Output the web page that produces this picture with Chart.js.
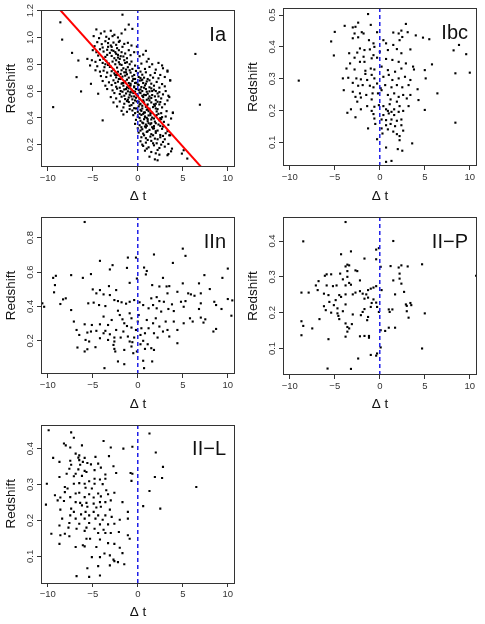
<!DOCTYPE html>
<html>
<head>
<meta charset="utf-8">
<script src="https://cdn.jsdelivr.net/npm/chart.js@4.4.1/dist/chart.umd.min.js"></script>
<style>
  body { margin: 0; background: #fff; }
  .panel { position: absolute; }
</style>
</head>
<body>
<canvas class="panel" id="cIa"  width="242" height="208" style="left:0;top:0"></canvas>
<canvas class="panel" id="cIbc" width="243" height="208" style="left:242px;top:0"></canvas>
<canvas class="panel" id="cIIn" width="242" height="208" style="left:0;top:208px"></canvas>
<canvas class="panel" id="cIIP" width="243" height="208" style="left:242px;top:208px"></canvas>
<canvas class="panel" id="cIIL" width="242" height="208" style="left:0;top:416px"></canvas>
<script>
// ---- data: [delta t, redshift] ----
const xTicks = [-10, -5, 0, 5, 10];

const iaPoints = [
  [-8.6,1.113],[-8.4,0.984],[-9.4,0.48],[-7.3,0.885],[-6.6,0.828],[-6.8,0.704],[-6.3,0.597],[-5.6,0.84],
  [-5.3,0.791],[-5.2,0.654],[-4.4,0.58],[-3.9,0.381],[-1.7,1.17],[-1.0,1.096],[-1.4,1.059],[-0.6,1.064],
  [6.4,0.877],[6.9,0.498],[5.1,0.158],[5.5,0.096],[4.9,0.133],[3.3,0.121],[3.8,0.17],[3.5,0.27],
  [3.9,0.436],[3.5,0.555],[3.6,0.679],[2.7,0.791],[3.3,0.753],[2.2,0.083],[0.6,0.872],[-0.1,0.932],[0.0,0.89],
  [-4.6,1.06],[-4.1,1.03],[-3.7,1.045],[-3.0,1.05],[-2.6,1.02],[-4.9,1.01],[-4.3,0.995],[-3.5,1.005],
  [-3.2,0.99],[-2.8,1.01],[-2.2,1.0],[-1.8,1.03],[-2.0,0.975],
  [-4.5,0.965],[-4.0,0.95],[-3.6,0.972],[-3.3,0.958],[-3.0,0.94],[-2.7,0.962],[-2.4,0.945],[-2.1,0.967],
  [-1.5,0.952],[-1.1,0.96],[-4.8,0.935],[-3.9,0.925],[-2.9,0.93],[-2.3,0.92],[-1.7,0.93],[-0.7,0.94],
  [-5.0,0.905],[-4.6,0.89],[-4.2,0.912],[-3.8,0.895],[-3.4,0.908],[-3.1,0.885],[-2.7,0.9],[-2.4,0.878],
  [-2.1,0.905],[-1.8,0.89],[-1.4,0.88],[-1.0,0.905],[-0.4,0.89],[0.9,0.9],[-4.4,0.865],[-3.6,0.855],
  [-2.9,0.862],[-2.2,0.85],[-1.6,0.858],[-1.2,0.845],[-0.8,0.868],[0.2,0.86],[1.2,0.84],
  [-5.1,0.83],[-4.7,0.818],[-4.2,0.832],[-3.9,0.81],[-3.5,0.825],[-3.2,0.805],[-2.8,0.82],[-2.5,0.8],
  [-2.1,0.815],[-1.8,0.795],[-1.4,0.81],[-0.9,0.8],[-0.3,0.79],[0.4,0.805],[1.0,0.82],[1.6,0.8],[2.3,0.81],
  [-4.5,0.785],[-3.7,0.778],[-3.0,0.782],[-2.3,0.775],[-1.6,0.77],[-1.1,0.778],[-0.6,0.765],[0.1,0.772],
  [0.8,0.765],[1.3,0.78],[2.0,0.76],[2.8,0.77],
  [-4.7,0.755],[-4.2,0.745],[-3.8,0.752],[-3.4,0.738],[-2.9,0.748],[-2.6,0.732],[-2.2,0.744],[-1.9,0.728],
  [-1.5,0.74],[-1.2,0.725],[-0.8,0.738],[-0.4,0.72],[0.0,0.735],[0.5,0.722],[0.9,0.74],[1.4,0.718],
  [1.9,0.735],[2.5,0.72],[3.3,0.745],[-4.1,0.712],[-3.5,0.705],[-3.0,0.715],[-2.4,0.702],[-1.7,0.708],
  [-1.0,0.7],[-0.5,0.69],[0.3,0.698],[1.1,0.69],[1.7,0.7],[2.3,0.695],[3.0,0.705],[3.6,0.68],
  [-3.9,0.675],[-3.2,0.665],[-2.7,0.68],[-2.2,0.67],[-1.8,0.655],[-1.4,0.672],[-1.0,0.66],[-0.6,0.675],
  [-0.2,0.662],[0.2,0.678],[0.6,0.66],[1.0,0.672],[1.5,0.655],[2.1,0.668],[2.7,0.652],[-3.6,0.64],
  [-2.9,0.645],[-2.4,0.632],[-1.6,0.64],[-1.2,0.628],[-0.8,0.642],[-0.4,0.635],[0.1,0.645],[0.4,0.63],
  [0.8,0.642],[1.3,0.628],[1.8,0.64],[2.4,0.625],[3.0,0.635],
  [-3.4,0.615],[-2.8,0.605],[-2.3,0.618],[-1.9,0.6],[-1.5,0.612],[-1.1,0.598],[-0.7,0.61],[-0.3,0.595],
  [0.1,0.608],[0.5,0.6],[0.9,0.615],[1.3,0.598],[1.8,0.61],[2.4,0.592],[3.1,0.6],[-2.6,0.585],
  [-2.0,0.578],[-1.3,0.582],[-0.9,0.572],[-0.5,0.585],[-0.1,0.575],[0.3,0.585],[0.7,0.572],[1.1,0.58],
  [1.6,0.57],[2.2,0.582],[2.8,0.575],[3.4,0.565],
  [-3.0,0.555],[-2.4,0.545],[-1.8,0.558],[-1.4,0.54],[-1.0,0.552],[-0.6,0.538],[-0.2,0.55],[0.2,0.54],
  [0.6,0.555],[1.0,0.535],[1.5,0.548],[2.0,0.532],[2.6,0.545],[3.3,0.53],[-2.7,0.515],[-2.0,0.522],
  [-1.5,0.505],[-1.0,0.518],[-0.5,0.51],[-0.1,0.522],[0.3,0.505],[0.7,0.515],[1.1,0.5],[1.5,0.515],
  [2.0,0.505],[2.5,0.518],[3.0,0.502],
  [-2.3,0.485],[-1.6,0.478],[-0.9,0.49],[-0.4,0.472],[0.1,0.485],[0.5,0.47],[0.9,0.482],[1.3,0.468],
  [1.7,0.48],[2.2,0.465],[2.7,0.478],[-1.8,0.452],[-1.2,0.445],[-0.6,0.455],[0.0,0.445],[0.4,0.452],
  [0.8,0.44],[1.2,0.45],[1.6,0.438],[2.1,0.448],[2.6,0.435],[3.2,0.45],[3.9,0.44],
  [-1.6,0.425],[-0.5,0.42],[0.0,0.408],[0.4,0.422],[0.8,0.405],[1.2,0.418],[1.6,0.402],[2.0,0.415],
  [2.5,0.398],[3.1,0.41],[3.7,0.395],[-0.2,0.385],[0.3,0.378],[0.7,0.39],[1.1,0.375],[1.5,0.388],
  [1.9,0.372],[2.4,0.382],[2.9,0.37],
  [-0.3,0.355],[0.2,0.345],[0.6,0.36],[1.0,0.34],[1.4,0.352],[1.8,0.338],[2.3,0.35],[2.8,0.335],
  [3.4,0.348],[0.0,0.322],[0.5,0.315],[0.9,0.328],[1.3,0.31],[1.8,0.322],[2.2,0.305],[2.7,0.318],[3.3,0.3],
  [0.1,0.29],[0.6,0.282],[1.0,0.295],[1.5,0.278],[2.0,0.288],[2.5,0.272],[3.1,0.285],[3.6,0.27],
  [0.4,0.255],[0.9,0.248],[1.4,0.26],[1.9,0.245],[2.5,0.255],[3.0,0.24],
  [0.3,0.225],[0.9,0.215],[1.5,0.228],[2.1,0.21],[2.8,0.22],[3.4,0.205],[0.6,0.19],[1.2,0.18],
  [1.8,0.195],[2.4,0.175],[3.0,0.185],[0.8,0.155],[1.5,0.145],[2.2,0.16],[3.7,0.15],
  [1.3,0.11],[2.4,0.125],[1.9,0.09],[3.4,0.13],
  [-1.3,0.615],[-0.8,0.592],[-0.4,0.628],[0.0,0.565],[0.3,0.612],[0.6,0.53],[0.9,0.57],[1.2,0.545],
  [1.6,0.6],[-1.1,0.535],[-0.7,0.56],[-0.2,0.47],[0.2,0.43],[0.5,0.49],[0.8,0.41],[1.0,0.46],
  [1.4,0.42],[1.8,0.5],[-0.9,0.64],[-0.3,0.66],[0.4,0.68],[0.7,0.44],[1.1,0.39],[1.5,0.36],
  [0.1,0.52],[-0.5,0.6],[2.1,0.42],[2.4,0.5],[1.9,0.56],[-1.7,0.66],[-2.1,0.69],[-2.5,0.72],
  [-3.1,0.78],[-3.6,0.8],[-2.0,0.84],[-1.3,0.74],[0.9,0.35],[1.7,0.32],[2.6,0.39],[0.4,0.33],
  [-3.3,0.93],[-2.9,0.905],[-2.5,0.89],[-2.2,0.87],[-1.9,0.86],[-2.6,0.845],[-3.4,0.87],[-3.8,0.84],
  [-2.4,0.83],[-1.5,0.83],[-1.2,0.815],[-0.7,0.82],[-2.0,0.8],[-3.3,0.795],[-2.7,0.76],[-1.8,0.755],
  [-1.3,0.76],[-0.9,0.755],[-0.2,0.75],[0.3,0.745],[-2.3,0.72],[-1.4,0.715],[-0.6,0.71],[0.1,0.705],
  [0.7,0.7],[-1.9,0.69],[-1.2,0.685],[-0.3,0.69],[0.5,0.685],[1.3,0.68],[-2.5,0.66],[-1.6,0.66],
  [-0.8,0.655],[0.0,0.65],[0.9,0.655],[-2.0,0.625],[-1.0,0.62],[-0.2,0.615],[0.7,0.625],[1.5,0.62],
  [-1.7,0.595],[-0.8,0.59],[0.2,0.59],[1.0,0.595],[2.0,0.6],[-1.5,0.565],[-0.4,0.56],[0.5,0.565],
  [1.3,0.56],[2.3,0.56],[-1.2,0.525],[-0.3,0.53],[0.6,0.525],[1.3,0.53],[2.2,0.52],[-0.7,0.495],
  [0.2,0.5],[1.0,0.49],[1.9,0.49],[-0.9,0.465],[0.3,0.46],[1.1,0.465],[2.0,0.47],[-0.3,0.435],
  [0.6,0.43],[1.4,0.435],[2.3,0.43],[0.2,0.4],[1.0,0.4],[1.8,0.395],[2.7,0.405],[0.5,0.365],
  [1.2,0.36],[2.0,0.36],[0.8,0.335],[1.6,0.33],[2.5,0.34],[0.3,0.305],[1.1,0.3],[2.0,0.3],
  [0.7,0.27],[1.7,0.27],[2.8,0.265],[1.1,0.235],[2.2,0.24],[0.5,0.2],[1.7,0.21],[2.6,0.2],
  [1.0,0.17],[2.0,0.135]
];
// fitted trend drawn in red on the Ia panel
const iaFitIntercept = 0.56;
const iaFitSlope = -0.0748;

const ibcPoints = [
  [-1.3,0.503],[2.9,0.472],[-3.9,0.466],[-2.7,0.463],[-1.0,0.469],[-2.4,0.476],[-3.0,0.461],[-5.0,0.447],
  [-5.4,0.417],[-2.8,0.442],[-2.0,0.446],[-1.8,0.442],[-2.4,0.43],[-3.0,0.427],[-0.3,0.446],[1.5,0.445],
  [2.1,0.442],[2.4,0.451],[3.1,0.446],[4.0,0.436],[4.8,0.429],[5.5,0.424],[2.5,0.431],[0.4,0.421],
  [2.2,0.421],[-1.2,0.421],[-0.7,0.411],[0.7,0.411],[1.5,0.406],[8.8,0.406],[8.2,0.389],[9.6,0.377],
  [-5.1,0.373],[-3.4,0.38],[-2.5,0.382],[-2.2,0.395],[-1.7,0.39],[-1.1,0.392],[-0.6,0.4],[0.0,0.385],
  [0.9,0.39],[1.9,0.393],[3.4,0.392],[2.4,0.38],[-0.7,0.374],[-1.8,0.369],[-2.8,0.366],[-2.2,0.353],
  [-1.7,0.353],[-0.9,0.364],[-0.3,0.366],[0.7,0.362],[1.4,0.359],[2.1,0.353],[2.9,0.348],[3.7,0.338],
  [3.8,0.329],[5.8,0.345],[-3.3,0.348],[-3.7,0.332],[-2.8,0.329],[-1.6,0.325],[-1.0,0.332],[-0.6,0.329],
  [0.2,0.338],[0.9,0.327],[1.7,0.322],[2.4,0.332],[5.0,0.327],[8.4,0.317],[10.0,0.319],[-4.1,0.301],
  [-3.5,0.303],[-2.6,0.301],[-2.1,0.298],[-1.6,0.315],[-1.4,0.296],[-0.9,0.312],[-0.6,0.301],[0.4,0.306],
  [1.0,0.312],[1.4,0.296],[2.1,0.301],[2.8,0.306],[3.4,0.296],[5.1,0.301],[-9.0,0.294],[-3.0,0.287],
  [-2.4,0.278],[-1.9,0.28],[-1.1,0.278],[-0.7,0.273],[-0.3,0.285],[0.1,0.27],[0.6,0.28],[1.3,0.273],
  [1.9,0.28],[2.5,0.273],[3.2,0.28],[4.2,0.267],[-4.0,0.264],[-3.0,0.259],[-2.2,0.254],[-1.5,0.249],
  [-0.8,0.254],[-0.2,0.254],[0.2,0.264],[0.9,0.249],[1.6,0.254],[2.1,0.243],[2.6,0.249],[3.4,0.249],
  [6.4,0.254],[-2.7,0.243],[-2.1,0.241],[-0.9,0.235],[1.2,0.235],[3.0,0.238],[4.3,0.233],[-2.5,0.228],
  [-1.4,0.214],[-0.6,0.212],[-0.1,0.217],[0.4,0.214],[1.1,0.22],[1.9,0.228],[2.2,0.214],[3.2,0.214],
  [-3.2,0.204],[-2.1,0.204],[-0.9,0.199],[0.7,0.204],[0.9,0.199],[1.3,0.196],[1.6,0.204],[2.1,0.196],
  [2.6,0.199],[5.0,0.202],[-3.6,0.193],[-0.7,0.189],[0.4,0.186],[1.0,0.191],[1.6,0.186],[-2.7,0.179],
  [-0.6,0.175],[0.2,0.172],[0.7,0.17],[1.3,0.172],[1.9,0.168],[2.4,0.172],[8.4,0.162],[-0.5,0.158],
  [0.7,0.154],[1.2,0.158],[1.7,0.151],[2.4,0.154],[-1.3,0.144],[0.2,0.144],[0.9,0.141],[1.5,0.134],
  [2.6,0.137],[0.3,0.128],[1.9,0.126],[2.2,0.12],[3.6,0.097],[2.2,0.107],[0.7,0.084],[2.0,0.079],
  [2.5,0.074],[1.3,0.042],[0.7,0.039],[-0.3,0.11]
];

const iinPoints = [
  [-5.9,0.891],[5.0,0.736],[5.3,0.694],[1.8,0.702],[-1.1,0.684],[-0.2,0.684],[-4.2,0.665],[3.9,0.653],
  [-2.8,0.64],[-1.2,0.624],[-3.1,0.615],[0.7,0.626],[10.0,0.62],[-9.4,0.566],[-9.1,0.578],[-7.4,0.582],
  [-6.1,0.566],[-5.2,0.588],[0.9,0.586],[2.8,0.566],[1.0,0.606],[7.4,0.582],[9.4,0.566],[5.0,0.534],
  [6.8,0.534],[-0.1,0.562],[-0.9,0.537],[-9.2,0.524],[-3.2,0.518],[1.6,0.524],[2.4,0.516],[3.2,0.516],
  [3.5,0.518],[5.6,0.476],[5.9,0.47],[6.3,0.462],[7.0,0.476],[8.0,0.501],[-5.0,0.499],[-4.2,0.495],
  [-2.4,0.495],[-4.6,0.476],[-3.8,0.47],[-3.1,0.466],[-9.3,0.482],[-8.0,0.447],[-8.3,0.441],[-8.6,0.414],
  [3.3,0.476],[4.4,0.485],[1.5,0.447],[2.1,0.454],[2.4,0.431],[2.9,0.427],[3.8,0.412],[4.8,0.427],
  [5.1,0.398],[5.3,0.431],[7.0,0.418],[8.5,0.427],[8.7,0.408],[9.3,0.385],[10.0,0.443],[10.5,0.435],
  [10.4,0.346],[-10.6,0.418],[-10.4,0.398],[-5.5,0.418],[-4.9,0.422],[-4.3,0.408],[-3.6,0.402],[-2.6,0.437],
  [-2.2,0.431],[-1.8,0.424],[-1.3,0.416],[-0.9,0.427],[-0.4,0.437],[0.2,0.424],[0.6,0.408],[1.2,0.389],
  [1.7,0.408],[2.1,0.389],[2.6,0.37],[3.4,0.385],[4.0,0.373],[5.8,0.331],[6.8,0.385],[7.5,0.325],
  [7.0,0.335],[7.3,0.306],[8.4,0.254],[8.7,0.269],[-7.4,0.379],[-7.1,0.312],[-6.5,0.234],[-6.7,0.161],
  [-5.9,0.138],[-5.6,0.151],[-5.9,0.296],[-5.1,0.292],[-5.6,0.248],[-5.2,0.254],[-4.6,0.258],[-4.7,0.163],
  [-4.2,0.296],[-3.8,0.341],[-3.6,0.258],[-3.3,0.292],[-2.9,0.321],[-3.1,0.238],[-2.6,0.219],[-2.6,0.196],
  [-2.7,0.176],[-2.6,0.153],[-2.2,0.08],[-1.5,0.064],[-3.7,0.041],[-2.2,0.375],[-2.0,0.35],[-1.7,0.325],
  [-1.5,0.302],[-1.2,0.286],[-0.9,0.36],[-0.7,0.331],[-0.7,0.277],[-1.6,0.254],[-1.1,0.225],[-0.9,0.196],
  [-0.6,0.192],[-0.4,0.219],[-0.2,0.263],[0.0,0.312],[0.1,0.35],[0.4,0.273],[0.3,0.234],[0.6,0.2],
  [0.3,0.18],[0.8,0.153],[1.5,0.157],[1.8,0.147],[1.1,0.18],[-0.1,0.138],[-0.5,0.128],[0.6,0.084],
  [0.7,0.041],[1.6,0.08],[-0.7,0.167],[-1.5,0.147],[1.0,0.321],[1.7,0.302],[2.0,0.331],[2.4,0.283],
  [1.8,0.244],[2.2,0.219],[2.8,0.254],[3.3,0.263],[3.5,0.225],[4.0,0.312],[3.1,0.312],[1.2,0.273],
  [0.8,0.244],[-6.8,0.263],[-5.8,0.205],[-5.4,0.196],[-4.2,0.215],[-3.8,0.244],[-3.3,0.205],[-2.4,0.263],
  [-1.9,0.219],[-2.5,0.138],[4.4,0.263],[5.1,0.302],[6.1,0.312],[4.4,0.186]
];

const iipPoints = [
  [-3.8,0.453],[-8.5,0.399],[1.5,0.4],[-0.1,0.38],[-0.4,0.376],[-3.2,0.371],[-4.3,0.363],[-1.7,0.351],
  [-0.4,0.349],[-3.6,0.334],[-3.4,0.332],[-3.8,0.329],[0.1,0.328],[1.2,0.33],[2.1,0.326],[2.4,0.332],
  [3.1,0.329],[4.7,0.335],[-2.7,0.318],[-2.5,0.316],[-3.6,0.316],[-4.4,0.309],[2.2,0.309],[-5.9,0.307],
  [-5.4,0.307],[-6.1,0.303],[1.5,0.29],[2.2,0.295],[-3.6,0.3],[-4.1,0.293],[-2.2,0.29],[-6.8,0.288],
  [-5.9,0.276],[-7.1,0.276],[-4.8,0.276],[-5.2,0.274],[-3.8,0.276],[-3.4,0.283],[-3.2,0.278],[-0.4,0.274],
  [-0.7,0.27],[-1.0,0.267],[-1.3,0.263],[2.4,0.281],[-1.5,0.251],[-2.2,0.26],[-1.9,0.253],[-8.7,0.256],
  [-7.9,0.256],[-6.9,0.263],[-6.2,0.253],[-5.7,0.249],[-4.5,0.249],[-4.3,0.244],[-3.8,0.251],[-3.0,0.251],
  [-2.7,0.256],[0.2,0.263],[1.7,0.251],[2.7,0.258],[-1.3,0.242],[-0.7,0.237],[-0.4,0.228],[-0.9,0.227],
  [-1.7,0.239],[-4.9,0.235],[-5.6,0.23],[-5.1,0.221],[-6.2,0.218],[-3.8,0.223],[2.9,0.223],[3.0,0.219],
  [3.4,0.227],[3.5,0.221],[-0.3,0.216],[1.0,0.209],[1.4,0.209],[1.1,0.202],[-0.1,0.202],[-1.0,0.216],
  [-1.7,0.21],[-1.9,0.202],[-4.1,0.204],[-4.7,0.212],[-4.7,0.198],[-5.4,0.2],[-6.0,0.207],[-3.0,0.195],
  [-2.1,0.193],[3.0,0.204],[5.0,0.198],[-1.3,0.188],[-4.6,0.191],[-8.7,0.176],[-8.5,0.163],[-6.7,0.182],
  [-4.5,0.182],[-1.4,0.179],[3.2,0.186],[-3.8,0.17],[-3.1,0.168],[-3.6,0.16],[1.7,0.158],[-7.5,0.156],
  [-3.4,0.156],[-3.6,0.147],[1.0,0.158],[0.1,0.151],[0.6,0.149],[-8.7,0.137],[-3.8,0.133],[-2.2,0.134],
  [-1.7,0.135],[-1.2,0.135],[-1.2,0.13],[-5.7,0.126],[4.7,0.1],[0.1,0.103],[-0.3,0.086],[-0.4,0.08],
  [-1.0,0.082],[-2.4,0.072],[-5.8,0.044],[-3.2,0.043],[10.7,0.303]
];

const iilPoints = [
  [-9.9,0.451],[-7.4,0.445],[-7.1,0.43],[-3.8,0.421],[1.3,0.442],[-8.2,0.414],[-8.0,0.409],[-6.2,0.409],
  [-7.5,0.403],[-3.0,0.403],[-1.6,0.4],[-0.6,0.405],[2.0,0.389],[-9.4,0.374],[-6.9,0.386],[-6.5,0.381],
  [-6.6,0.375],[-5.9,0.374],[-4.7,0.377],[-3.2,0.379],[-8.7,0.363],[-7.5,0.366],[-6.5,0.368],[-6.1,0.363],
  [-6.4,0.355],[-5.6,0.36],[-5.2,0.356],[-4.4,0.358],[-7.4,0.355],[2.8,0.349],[-4.1,0.347],[-2.7,0.351],
  [-7.6,0.344],[-6.6,0.342],[-5.9,0.338],[-5.7,0.335],[-4.8,0.34],[-6.9,0.33],[-7.9,0.33],[-2.4,0.332],
  [-3.6,0.328],[-0.8,0.332],[-0.6,0.33],[-7.1,0.323],[-6.2,0.324],[-4.8,0.316],[-4.2,0.314],[-3.6,0.316],
  [-8.7,0.321],[1.9,0.321],[2.7,0.318],[-0.7,0.31],[-5.4,0.309],[-10.1,0.302],[-7.1,0.302],[-6.5,0.304],
  [-5.9,0.302],[-4.8,0.302],[-3.9,0.301],[6.5,0.293],[-8.1,0.293],[-7.8,0.289],[-5.8,0.291],[-5.1,0.289],
  [-3.5,0.284],[1.3,0.282],[-8.1,0.279],[-6.9,0.275],[-6.5,0.277],[-5.4,0.273],[-4.4,0.275],[-3.3,0.273],
  [-2.6,0.277],[-9.2,0.27],[-8.6,0.264],[-7.5,0.265],[-5.9,0.265],[-4.9,0.264],[-4.1,0.267],[-3.0,0.256],
  [-8.9,0.256],[-8.2,0.254],[-6.9,0.251],[-6.4,0.249],[-5.7,0.249],[-4.9,0.247],[-4.2,0.251],[-3.6,0.251],
  [-1.7,0.251],[0.6,0.24],[-10.2,0.244],[-6.2,0.242],[-5.6,0.238],[-4.6,0.236],[-4.1,0.238],[-7.4,0.233],
  [-8.6,0.23],[2.5,0.233],[-3.1,0.23],[-7.1,0.224],[-5.8,0.224],[-4.9,0.224],[-1.1,0.224],[-7.5,0.214],
  [-6.3,0.217],[-5.4,0.214],[-4.4,0.214],[-3.6,0.214],[-2.9,0.21],[-8.4,0.205],[-6.9,0.205],[-5.9,0.205],
  [-4.7,0.205],[-3.9,0.202],[-1.1,0.205],[-2.0,0.202],[-7.6,0.193],[-6.5,0.191],[-5.4,0.193],[-4.2,0.189],
  [-3.3,0.189],[-2.6,0.191],[-8.7,0.186],[-7.7,0.18],[-6.8,0.177],[-5.7,0.18],[-4.8,0.177],[-3.8,0.174],
  [-9.6,0.163],[-8.1,0.163],[-5.9,0.171],[-4.4,0.165],[-3.6,0.165],[-3.0,0.165],[-2.1,0.168],[-1.1,0.159],
  [-8.6,0.159],[-7.6,0.156],[-5.7,0.149],[-5.3,0.149],[-4.2,0.147],[-0.9,0.149],[-3.3,0.137],[-2.6,0.135],
  [-8.7,0.135],[-6.1,0.131],[-5.9,0.128],[-6.9,0.126],[-4.6,0.126],[-2.0,0.124],[-1.7,0.109],[-3.7,0.108],
  [-3.1,0.103],[-5.1,0.098],[-4.2,0.098],[-2.7,0.091],[-2.6,0.087],[-2.2,0.084],[-1.5,0.078],[-4.4,0.073],
  [-3.1,0.075],[-5.6,0.067],[-6.8,0.045],[-5.4,0.043],[-4.2,0.047]
];

// ---- shared look, R base-graphics style ----
Chart.defaults.font.family = '"Liberation Sans", Arial, Helvetica, sans-serif';
Chart.defaults.color = '#333';

const boxAndLabel = {
  id: 'boxAndLabel',
  afterDatasetsDraw(chart, args, opts) {
    const ctx = chart.ctx;
    const a = chart.chartArea;
    ctx.save();
    ctx.strokeStyle = '#333';
    ctx.lineWidth = 1;
    ctx.strokeRect(Math.round(a.left) + 0.5, Math.round(a.top) + 0.5,
      Math.round(a.right - a.left) - 1, Math.round(a.bottom - a.top) - 1);
    ctx.fillStyle = '#111';
    ctx.font = '20px "Liberation Sans", Arial, sans-serif';
    ctx.textAlign = 'right';
    ctx.textBaseline = 'middle';
    ctx.fillText(opts.text, a.right - 9, a.top + 25);
    ctx.restore();
  }
};

function minusSign(v) {
  return String(v).replace('-', '\u2212');
}

function makePanel(id, label, points, yMin, yMax, yTicks, pad, fit) {
  const datasets = [];
  if (fit) {
    datasets.push({
      data: [-10.75, 10.8].map(x => ({x: x, y: fit.intercept + fit.slope * x})),
      showLine: true,
      borderColor: '#ff0000',
      borderWidth: 2,
      pointRadius: 0,
      clip: 0
    });
  }
  datasets.push({
    data: [{x: 0, y: yMin}, {x: 0, y: yMax}],
    showLine: true,
    borderColor: '#2020e8',
    borderWidth: 1.5,
    borderDash: [4, 3],
    pointRadius: 0,
    clip: 0
  });
  datasets.push({
    data: points.map(p => ({x: p[0], y: p[1]})),
    backgroundColor: '#000',
    pointStyle: 'rect',
    pointRadius: 1.5,
    pointBorderWidth: 0
  });

  const config = {
    type: 'scatter',
    data: { datasets: datasets },
    options: {
      responsive: false,
      animation: false,
      layout: { padding: { top: pad.top, right: pad.right, bottom: 0, left: 0 } },
      scales: {
        x: {
          type: 'linear',
          min: -10.75,
          max: 10.8,
          afterBuildTicks: s => { s.ticks = xTicks.map(v => ({value: v})); },
          afterFit: s => { s.height = 208 - pad.bottom; },
          grid: { drawOnChartArea: false, tickLength: 4, color: '#333' },
          border: { display: false },
          ticks: { font: { size: 9.5 }, padding: 2, maxRotation: 0, callback: v => minusSign(v) },
          title: { display: true, text: '\u0394 t', font: { size: 13.5 }, color: '#111', padding: { top: 0, bottom: 4 } }
        },
        y: {
          type: 'linear',
          min: yMin,
          max: yMax,
          afterBuildTicks: s => { s.ticks = yTicks.map(v => ({value: v})); },
          afterFit: s => { s.width = 41; },
          grid: { drawOnChartArea: false, tickLength: 4, color: '#333' },
          border: { display: false },
          ticks: {
            font: { size: 9.5 },
            padding: 0,
            minRotation: 90,
            maxRotation: 90,
            crossAlign: 'center',
            callback: v => v.toFixed(1)
          },
          title: { display: true, text: 'Redshift', font: { size: 13.5 }, color: '#111', padding: { top: 3, bottom: 0 } }
        }
      },
      plugins: {
        legend: { display: false },
        tooltip: { enabled: false },
        boxAndLabel: { text: label }
      }
    },
    plugins: [boxAndLabel]
  };
  return new Chart(document.getElementById(id), config);
}

makePanel('cIa', 'Ia', iaPoints, 0.033, 1.205, [0.2, 0.4, 0.6, 0.8, 1.0, 1.2],
  {top: 10, right: 7, bottom: 167}, {intercept: iaFitIntercept, slope: iaFitSlope});
makePanel('cIbc', 'Ibc', ibcPoints, 0.026, 0.522, [0.1, 0.2, 0.3, 0.4, 0.5],
  {top: 8, right: 8, bottom: 166});
makePanel('cIIn', 'IIn', iinPoints, 0.007, 0.92, [0.2, 0.4, 0.6, 0.8],
  {top: 9, right: 7, bottom: 166});
makePanel('cIIP', 'II\u2212P', iipPoints, 0.026, 0.467, [0.1, 0.2, 0.3, 0.4],
  {top: 9, right: 8, bottom: 167});
makePanel('cIIL', 'II\u2212L', iilPoints, 0.026, 0.467, [0.1, 0.2, 0.3, 0.4],
  {top: 8.5, right: 7, bottom: 167});
</script>
</body>
</html>
